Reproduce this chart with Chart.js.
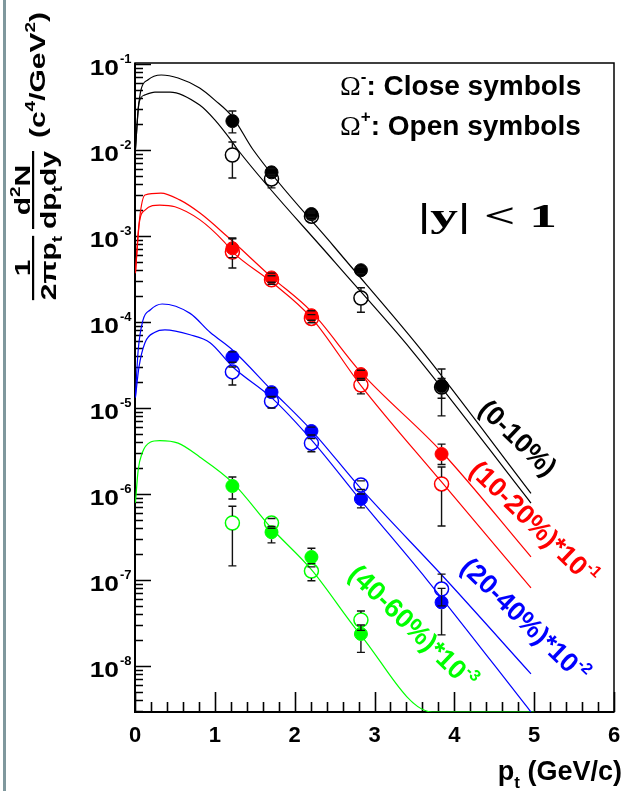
<!DOCTYPE html>
<html><head><meta charset="utf-8">
<script src="https://cdn.jsdelivr.net/npm/chart.js@4.4.1/dist/chart.umd.min.js"></script>
<style>
html,body{margin:0;padding:0;background:#fff;}
#wrap{position:relative;width:625px;height:791px;overflow:hidden;}
#edge{position:absolute;left:3px;top:0;width:3px;height:791px;background:#7f989d;}
canvas{position:absolute;left:0;top:0;}
</style></head><body>
<div id="wrap"><canvas id="c" width="625" height="791"></canvas><div id="edge"></div></div>
<script>
// ---------- data ----------
const ptX = [1.22, 1.71, 2.21, 2.83, 3.84];
const ptXGreen = [1.22, 1.71, 2.21, 2.83];

const closed0_10   = [2.17e-2, 5.5e-3, 1.8e-3, 4.0e-4, 1.8e-5];
const closed0_10Hi = [2.84e-2, 6.1e-3, 1.95e-3, 4.35e-4, 2.84e-5];
const closed0_10Lo = [1.58e-2, 4.95e-3, 1.65e-3, 3.65e-4, 8.1e-6];
const open0_10     = [8.75e-3, 4.6e-3, 1.7e-3, 1.9e-4, 1.75e-5];
const open0_10Hi   = [1.24e-2, 5.2e-3, 1.85e-3, 2.5e-4, 2.2e-5];
const open0_10Lo   = [4.72e-3, 3.63e-3, 1.55e-3, 1.3e-4, 1.3e-5];

const closed10_20   = [7.2e-4, 3.3e-4, 1.2e-4, 2.48e-5, 2.92e-6];
const closed10_20Hi = [9.3e-4, 3.7e-4, 1.35e-4, 2.75e-5, 3.8e-6];
const closed10_20Lo = [5.6e-4, 2.9e-4, 1.05e-4, 2.2e-5, 2.2e-6];
const open10_20     = [6.5e-4, 3.1e-4, 1.1e-4, 1.85e-5, 1.31e-6];
const open10_20Hi   = [9.5e-4, 3.45e-4, 1.22e-4, 2.1e-5, 2.06e-6];
const open10_20Lo   = [4.25e-4, 2.75e-4, 9.8e-5, 1.46e-5, 4.25e-7];

const closed20_40   = [3.92e-5, 1.53e-5, 5.4e-6, 8.75e-7, 5.5e-8];
const closed20_40Hi = [4.5e-5, 1.72e-5, 6.0e-6, 1.0e-6, 8.0e-8];
const closed20_40Lo = [3.4e-5, 1.36e-5, 4.85e-6, 6.9e-7, 2.3e-8];
const open20_40     = [2.63e-5, 1.2e-5, 3.9e-6, 1.27e-6, 7.85e-8];
const open20_40Hi   = [3.0e-5, 1.35e-5, 4.4e-6, 1.42e-6, 1.17e-7];
const open20_40Lo   = [1.85e-5, 1.0e-5, 3.1e-6, 1.13e-6, 5.0e-8];

const closed40_60   = [1.24e-6, 3.6e-7, 1.85e-7, 2.36e-8];
const closed40_60Hi = [1.58e-6, 4.2e-7, 2.34e-7, 3.0e-8];
const closed40_60Lo = [8.75e-7, 2.7e-7, 1.55e-7, 1.44e-8];
const open40_60     = [4.6e-7, 4.6e-7, 1.27e-7, 3.43e-8];
const open40_60Hi   = [7.2e-7, 5.2e-7, 1.42e-7, 4.37e-8];
const open40_60Lo   = [1.46e-7, 4.0e-7, 9.8e-8, 2.6e-8];

// fit curves
const fitX_0_10_minus = [0.005, 0.04, 0.075, 0.16, 0.33, 0.54, 0.81, 1.0, 1.225, 1.475, 2.5, 3.5875, 4.96];
const fitY_0_10_minus = [1.0e-2, 2.92e-2, 5.01e-2, 6.52e-2, 7.45e-2, 6.87e-2, 5.25e-2, 3.8e-2, 2.4e-2, 1.02e-2, 7.4e-4, 4.72e-5, 1.02e-6];
const fitX_0_10_plus  = [0.005, 0.05, 0.125, 0.25, 0.44, 0.81, 1.0, 1.2, 1.29, 2.5, 3.4625, 4.96];
const fitY_0_10_plus  = [1.0e-2, 3.55e-2, 4.37e-2, 4.72e-2, 4.72e-2, 3.33e-2, 2.24e-2, 1.31e-2, 1.0e-2, 5.0e-4, 4.72e-5, 7.85e-7];

const fitX_10_20_minus = [0.005, 0.06, 0.125, 0.325, 0.56, 0.81, 1.16, 1.71, 2.21, 2.825, 3.84, 4.96];
const fitY_10_20_minus = [3.7e-4, 1.66e-3, 3.0e-3, 3.16e-3, 2.63e-3, 1.86e-3, 9.8e-4, 3.33e-4, 1.32e-4, 2.63e-5, 3.1e-6, 1.86e-7];
const fitX_10_20_plus  = [0.005, 0.05, 0.125, 0.31, 0.5, 0.81, 1.12, 1.225, 1.71, 2.21, 2.825, 3.84, 4.96];
const fitY_10_20_plus  = [3.7e-4, 1.35e-3, 2.0e-3, 2.29e-3, 2.19e-3, 1.55e-3, 8.5e-4, 6.5e-4, 2.92e-4, 1.12e-4, 1.85e-5, 1.38e-6, 8.1e-8];

const fitX_20_40_minus = [0.005, 0.04, 0.1, 0.19, 0.34, 0.69, 0.94, 1.225, 1.71, 2.21, 2.825, 3.9, 4.96];
const fitY_20_40_minus = [1.35e-5, 4.7e-5, 1.05e-4, 1.38e-4, 1.62e-4, 1.26e-4, 7.6e-5, 4.7e-5, 1.62e-5, 5.5e-6, 1.17e-6, 1.0e-7, 8.1e-9];
const fitX_20_40_plus  = [0.005, 0.05, 0.125, 0.25, 0.375, 0.69, 0.94, 1.225, 1.71, 2.21, 2.825, 3.66, 4.96];
const fitY_20_40_plus  = [1.32e-5, 3.0e-5, 5.75e-5, 7.6e-5, 8.1e-5, 7.1e-5, 5.75e-5, 3.0e-5, 1.32e-5, 4.27e-6, 8.5e-7, 1.0e-7, 2.92e-9];

const fitX_40_60 = [0.005, 0.04, 0.09, 0.19, 0.31, 0.54, 0.81, 1.225, 1.71, 2.21, 2.82, 3.725, 5.0];
const fitY_40_60 = [7.9e-7, 1.9e-6, 3.0e-6, 4.0e-6, 4.17e-6, 3.9e-6, 2.7e-6, 1.35e-6, 4.0e-7, 1.32e-7, 2.34e-8, 2.92e-9, 2.92e-9];

// axis ranges and tick labels
const xMin = 0, xMax = 6;
const yMin = 2.92e-9, yMax = 0.1027;
const xTickLabels = ['0', '1', '2', '3', '4', '5', '6'];
const yTickExps = [-1, -2, -3, -4, -5, -6, -7, -8];

// ---------- styling ----------
const BLACK = '#000000', RED = '#ff0000', BLUE = '#0000ff', GREEN = '#00ff00';
const SANS = '"Liberation Sans", Arial, Helvetica, sans-serif';
const SERIF = '"Liberation Serif", "Times New Roman", serif';

function pts(xs, ys) { return xs.map((x, i) => ({ x: x, y: ys[i] })); }
function curve(xs, ys, color) {
  return { type: 'line', data: pts(xs, ys), borderColor: color, borderWidth: 1.2,
    pointRadius: 0, fill: false, cubicInterpolationMode: 'monotone', order: 10 };
}
function markers(xs, ys, hi, lo, color, filled) {
  return { type: 'scatter', data: pts(xs, ys), errHi: hi, errLo: lo,
    pointRadius: filled ? 6.5 : 7, pointHoverRadius: 7,
    pointBackgroundColor: filled ? color : 'rgba(0,0,0,0)',
    pointBorderColor: color, pointBorderWidth: filled ? 1 : 1.5,
    showLine: false, order: filled ? 1 : 2 };
}

const datasets = [
  curve(fitX_0_10_minus, fitY_0_10_minus, BLACK),
  curve(fitX_0_10_plus, fitY_0_10_plus, BLACK),
  curve(fitX_10_20_minus, fitY_10_20_minus, RED),
  curve(fitX_10_20_plus, fitY_10_20_plus, RED),
  curve(fitX_20_40_minus, fitY_20_40_minus, BLUE),
  curve(fitX_20_40_plus, fitY_20_40_plus, BLUE),
  curve(fitX_40_60, fitY_40_60, GREEN),
  markers(ptX, open0_10, open0_10Hi, open0_10Lo, BLACK, false),
  markers(ptX, closed0_10, closed0_10Hi, closed0_10Lo, BLACK, true),
  markers(ptX, open10_20, open10_20Hi, open10_20Lo, RED, false),
  markers(ptX, closed10_20, closed10_20Hi, closed10_20Lo, RED, true),
  markers(ptX, open20_40, open20_40Hi, open20_40Lo, BLUE, false),
  markers(ptX, closed20_40, closed20_40Hi, closed20_40Lo, BLUE, true),
  markers(ptXGreen, open40_60, open40_60Hi, open40_60Lo, GREEN, false),
  markers(ptXGreen, closed40_60, closed40_60Hi, closed40_60Lo, GREEN, true)
];

function measure(ctx, parts) {
  let w = 0;
  parts.forEach(p => { ctx.font = p[1]; w += ctx.measureText(p[0]).width; });
  return w;
}
function rich(ctx, parts, x, y, align) {
  const w = measure(ctx, parts);
  let cx = align === 'center' ? x - w / 2 : (align === 'right' ? x - w : x);
  ctx.textAlign = 'left';
  parts.forEach(p => { ctx.font = p[1]; ctx.fillText(p[0], cx, y + (p[2] || 0)); cx += ctx.measureText(p[0]).width; });
  return w;
}
// centred text, squeezed vertically by sy
function richSq(ctx, parts, x, y, sy) {
  ctx.save(); ctx.translate(x, y); ctx.scale(1, sy);
  const w = rich(ctx, parts, 0, 0, 'center');
  ctx.restore();
  return w;
}

const frame = {
  id: 'frame',
  beforeDatasetsDraw(chart) {
    const ctx = chart.ctx, a = chart.chartArea, xs = chart.scales.x, ys = chart.scales.y;
    ctx.save();
    ctx.strokeStyle = '#000'; ctx.lineWidth = 1.5;
    ctx.strokeRect(a.left, a.top, a.right - a.left, a.bottom - a.top);
    ctx.lineWidth = 2;
    ctx.beginPath(); ctx.moveTo(a.left, a.top); ctx.lineTo(a.left, a.bottom); ctx.lineTo(a.right, a.bottom); ctx.stroke();
    ctx.lineWidth = 1.6;
    ctx.beginPath();
    for (let i = 0; i <= 30; i++) {
      const v = i / 5; const px = Math.round(xs.getPixelForValue(v)) + 0.5;
      const len = (i % 5 === 0) ? 20 : 10;
      ctx.moveTo(px, a.bottom); ctx.lineTo(px, a.bottom - len);
    }
    for (let e = -9; e <= -1; e++) {
      for (let k = 1; k <= 9; k++) {
        const v = k * Math.pow(10, e);
        if (v < yMin || v > yMax * 1.0001) continue;
        const py = Math.round(ys.getPixelForValue(v)) + 0.5;
        const len = k === 1 ? 16 : 8;
        ctx.moveTo(a.left, py); ctx.lineTo(a.left + len, py);
      }
    }
    ctx.stroke();
    ctx.restore();
  },
  afterDatasetsDraw(chart) {
    const ctx = chart.ctx, a = chart.chartArea, xs = chart.scales.x, ys = chart.scales.y;
    ctx.save();
    ctx.beginPath(); ctx.rect(a.left, a.top, a.right - a.left, a.bottom - a.top); ctx.clip();
    ctx.strokeStyle = '#111'; ctx.lineWidth = 1.4;
    chart.data.datasets.forEach(ds => {
      if (!ds.errHi) return;
      const r = 7;
      ds.data.forEach((p, i) => {
        const px = xs.getPixelForValue(p.x), py = ys.getPixelForValue(p.y);
        const ph = ys.getPixelForValue(ds.errHi[i]), pl = ys.getPixelForValue(ds.errLo[i]);
        ctx.beginPath();
        if (ph < py - r) { ctx.moveTo(px, py - r); ctx.lineTo(px, ph); }
        ctx.moveTo(px - 4, ph); ctx.lineTo(px + 4, ph);
        if (pl > py + r) { ctx.moveTo(px, py + r); ctx.lineTo(px, pl); }
        ctx.moveTo(px - 4, pl); ctx.lineTo(px + 4, pl);
        ctx.stroke();
      });
    });
    ctx.restore();
  },
  afterDraw(chart) {
    const ctx = chart.ctx, xs = chart.scales.x, ys = chart.scales.y;
    ctx.save();
    ctx.fillStyle = '#000';
    ctx.textBaseline = 'alphabetic';
    xTickLabels.forEach((t, i) => {
      rich(ctx, [[t, 'bold 22px ' + SANS]], xs.getPixelForValue(i), 742, 'center');
    });
    yTickExps.forEach(e => {
      const py = ys.getPixelForValue(Math.pow(10, e));
      ctx.save(); ctx.translate(119, py + 11); ctx.scale(1.2, 1);
      rich(ctx, [['10', 'bold 22px ' + SANS]], 0, 0, 'right');
      ctx.restore();
      rich(ctx, [[String(e), 'bold 13px ' + SANS]], 120, py - 1, 'left');
    });
    rich(ctx, [['p', 'bold 27px ' + SANS], ['t', 'bold 17px ' + SANS, 8], [' (GeV/c)', 'bold 27px ' + SANS]], 622, 780, 'right');
    rich(ctx, [['\u03A9', '28px ' + SERIF], ['-', 'bold 17px ' + SANS, -13], [': Close symbols', 'bold 28px ' + SANS]], 340, 95, 'left');
    rich(ctx, [['\u03A9', '28px ' + SERIF], ['+', 'bold 17px ' + SANS, -13], [': Open symbols', 'bold 28px ' + SANS]], 340, 135, 'left');
    ctx.save();
    ctx.font = 'bold 34px ' + SERIF;
    const txt = '|y| < 1';
    const w = ctx.measureText(txt).width;
    ctx.translate(418, 227); ctx.scale(139 / w, 1);
    ctx.fillText(txt, 0, 0);
    ctx.restore();
    const labels = [
      [BLACK, 518, 438, [['(0-10%)', 'bold 27px ' + SANS]]],
      [RED, 534, 523, [['(10-20%)*10', 'bold 27px ' + SANS], ['-1', 'bold 16px ' + SANS, -12]]],
      [BLUE, 525, 620, [['(20-40%)*10', 'bold 27px ' + SANS], ['-2', 'bold 16px ' + SANS, -12]]],
      [GREEN, 413, 627, [['(40-60%)*10', 'bold 27px ' + SANS], ['-3', 'bold 16px ' + SANS, -12]]]
    ];
    labels.forEach(l => {
      ctx.save(); ctx.fillStyle = l[0];
      ctx.translate(l[1], l[2]); ctx.rotate(44 * Math.PI / 180);
      rich(ctx, l[3], 0, 9, 'center');
      ctx.restore();
    });
    // y title, rotated; local x runs up the page, local y runs to the right
    ctx.save();
    ctx.translate(40, 153); ctx.rotate(-Math.PI / 2);
    const F = 'bold 30px ' + SANS, FS = 'bold 19px ' + SANS, SQ = 0.75;
    ctx.fillStyle = '#000';
    // 1 / (2 pi p_t)
    richSq(ctx, [['1', F]], -115, -10, SQ);
    const w1 = measure(ctx, [['2\u03C0p', F], ['t', FS]]);
    ctx.fillRect(-115 - w1 / 2, -8, w1, 2.2);
    richSq(ctx, [['2\u03C0p', F], ['t', FS, 8]], -115, 16, SQ);
    // d2N / (dp_t dy)
    richSq(ctx, [['d', F], ['2', FS, -13], ['N', F]], -37, -10, SQ);
    const w2 = measure(ctx, [['dp', F], ['t', FS], ['dy', F]]);
    ctx.fillRect(-37 - w2 / 2, -8, w2, 2.2);
    richSq(ctx, [['dp', F], ['t', FS, 8], ['dy', F]], -37, 16, SQ);
    // units
    richSq(ctx, [['(c', F], ['4', FS, -13], ['/GeV', F], ['2', FS, -13], [')', F]], 78, 5, SQ);
    ctx.restore();
    ctx.restore();
  }
};

new Chart(document.getElementById('c'), {
  type: 'scatter',
  data: { datasets: datasets },
  options: {
    responsive: false, animation: false, devicePixelRatio: 1,
    layout: { padding: { left: 135, right: 11, top: 63, bottom: 79 } },
    plugins: { legend: { display: false }, tooltip: { enabled: false } },
    scales: {
      x: { type: 'linear', min: xMin, max: xMax, display: false },
      y: { type: 'logarithmic', min: yMin, max: yMax, display: false }
    }
  },
  plugins: [frame]
});
</script>
</body></html>
